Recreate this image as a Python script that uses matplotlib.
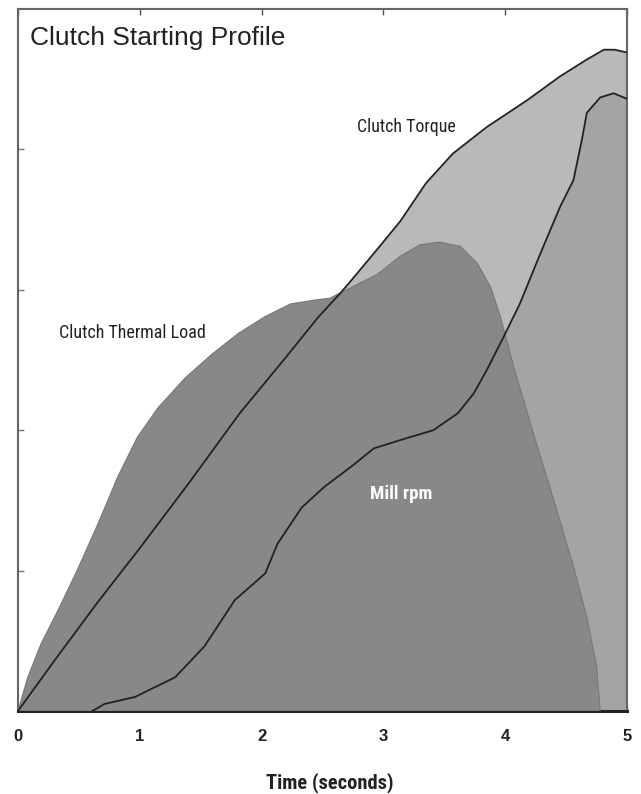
import matplotlib
matplotlib.use("Agg")
import matplotlib.pyplot as plt
from matplotlib import font_manager

# ---- data ----
torque_t = [0, 0.3, 0.65, 1.0, 1.4, 1.82, 2.2, 2.46, 2.64, 2.72, 2.97, 3.14, 3.35,
            3.57, 3.85, 4.18, 4.45, 4.67, 4.81, 4.9, 5.0]
torque_v = [0, 0.36, 0.77, 1.16, 1.62, 2.12, 2.52, 2.80, 2.97, 3.05, 3.31, 3.49, 3.76,
            3.97, 4.16, 4.35, 4.52, 4.64, 4.71, 4.71, 4.69]

thermal_t = [0, 0.08, 0.19, 0.33, 0.49, 0.66, 0.82, 0.98, 1.15, 1.37, 1.59, 1.81,
             2.03, 2.24, 2.46, 2.56, 2.72, 2.95, 3.14, 3.30, 3.46, 3.63, 3.77, 3.88,
             3.96, 4.07, 4.23, 4.40, 4.56, 4.67, 4.75, 4.78]
thermal_v = [0, 0.24, 0.48, 0.72, 1.01, 1.34, 1.67, 1.95, 2.16, 2.37, 2.54, 2.69,
             2.81, 2.90, 2.93, 2.94, 3.01, 3.11, 3.24, 3.32, 3.34, 3.31, 3.19, 3.02,
             2.81, 2.45, 1.98, 1.50, 1.03, 0.67, 0.32, 0]

mill_t = [0.61, 0.71, 0.96, 1.29, 1.53, 1.78, 2.03, 2.13, 2.33, 2.52, 2.75, 2.92,
          3.14, 3.41, 3.61, 3.74, 3.85, 3.99, 4.12, 4.28, 4.45, 4.56, 4.63, 4.67,
          4.78, 4.89, 5.0]
mill_v = [0, 0.05, 0.10, 0.24, 0.46, 0.79, 0.98, 1.19, 1.45, 1.60, 1.75, 1.87,
          1.93, 2.00, 2.12, 2.26, 2.43, 2.67, 2.90, 3.24, 3.59, 3.78, 4.07, 4.26,
          4.37, 4.40, 4.36]

x_ticks = [0, 1, 2, 3, 4, 5]
x_tick_labels = ["0", "1", "2", "3", "4", "5"]
y_ticks = [1, 2, 3, 4]

title = "Clutch Starting Profile"
xlabel = "Time (seconds)"
label_torque = "Clutch Torque"
label_thermal = "Clutch Thermal Load"
label_mill = "Mill rpm"

# ---- font selection ----
entries = font_manager.fontManager.ttflist
names = {f.name for f in entries}
sans = "Liberation Sans" if "Liberation Sans" in names else "DejaVu Sans"
narrow_kw = {"family": sans}
for cand in ["Roboto Condensed", "Liberation Sans Narrow", "Open Sans Condensed"]:
    if cand in names:
        narrow_kw = {"family": cand}
        break
else:
    cond = [f for f in entries if f.stretch in ("condensed", "semi-condensed")
            and f.name in ("DejaVu Sans", "Roboto", "Open Sans", "Noto Sans", "Liberation Sans")]
    if cond:
        narrow_kw = {"family": cond[0].name, "fontstretch": "condensed"}

fig = plt.figure(figsize=(6.41, 7.94), dpi=100)
ax = fig.add_axes([18 / 641, 1 - 711 / 794, (627 - 18) / 641, (711 - 9) / 794])

c_light = "#b9b9b9"
c_mid = "#a4a4a4"
c_dark = "#888888"

ax.fill_between(torque_t, 0, torque_v, color=c_light, lw=0, zorder=1)
ax.fill_between(mill_t, 0, mill_v, color=c_mid, lw=0, zorder=2)
ax.fill(thermal_t, thermal_v, facecolor=c_dark, edgecolor="#777777", lw=0.8, zorder=3)
ax.plot(torque_t, torque_v, color="#222222", lw=1.3, zorder=4, solid_joinstyle="round")
ax.plot(mill_t, mill_v, color="#222222", lw=1.3, zorder=4, solid_joinstyle="round")

ax.set_xlim(0, 5)
ax.set_ylim(0, 5.0)
ax.set_xticks(x_ticks)
ax.set_xticklabels(x_tick_labels, fontsize=12, fontweight="bold", family=sans, color="#222222")
ax.set_yticks(y_ticks)
ax.set_yticklabels([])
ax.tick_params(axis="x", direction="in", length=4, width=1, color="#555555", pad=13,
               top=True)
ax.tick_params(axis="y", direction="in", length=4, width=1, color="#777777")

for side in ["left", "right", "top"]:
    ax.spines[side].set_color("#666666")
    ax.spines[side].set_linewidth(1.5)
ax.spines["bottom"].set_color("#222222")
ax.spines["bottom"].set_linewidth(2.2)

ax.text(0.1, 4.79, title, fontsize=19, family=sans, color="#222222",
        va="center", ha="left", zorder=5)
ax.text(2.78, 4.16, label_torque, fontsize=12.9, color="#222222",
        va="center", ha="left", zorder=5, **narrow_kw)
ax.text(0.34, 2.69, label_thermal, fontsize=13, color="#222222",
        va="center", ha="left", zorder=5, **narrow_kw)
ax.text(2.89, 1.545, label_mill, fontsize=13.5, fontweight="bold", color="white",
        va="center", ha="left", zorder=5, **narrow_kw)

fig.text(330 / 641, 1 - 783 / 794, xlabel, fontsize=14.8, fontweight="bold",
         color="#222222", ha="center", va="center", **narrow_kw)

fig.savefig("out.png", dpi=100)
